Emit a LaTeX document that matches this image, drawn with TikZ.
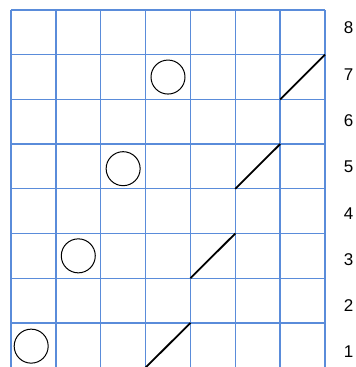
\documentclass[tikz,border=0pt]{standalone}
\usepackage{fontspec}
\setmainfont{Liberation Sans}
\begin{document}
\begin{tikzpicture}[x=1pt,y=-1pt,
  gridline/.style={draw={rgb,255:red,90;green,140;blue,218},line width=1.3pt},
  ball/.style={circle,draw=black,line width=1pt,fill=white,minimum size=34pt,inner sep=0pt},
  stroke/.style={draw=black,line width=1.8pt},
  rowlabel/.style={font=\fontsize{17}{19}\selectfont,inner sep=0pt,text=black}]
\useasboundingbox (0,0) rectangle (356,367);
\def\cw{44.857}
\def\ch{44.7}
% grid
\foreach \i in {0,...,7} {
  \draw[gridline] ({11+\i*\cw},10) -- ({11+\i*\cw},{10+8*\ch});
}
\foreach \j in {0,...,8} {
  \draw[gridline] (11,{10+\j*\ch}) -- (325,{10+\j*\ch});
}
% circles
\node[ball] (c7) at ({11+3.5*\cw},{10+1.5*\ch}) {};
\node[ball] (c5) at ({11+2.5*\cw},{10+3.55*\ch}) {};
\node[ball] (c3) at ({11+1.5*\cw},{10+5.5*\ch}) {};
\node[ball] (c1) at ({11+0.45*\cw},{10+7.52*\ch}) {};
% diagonal strokes
\coordinate (a7) at ({11+6*\cw},{10+2*\ch});
\coordinate (b7) at ({11+7*\cw},{10+1*\ch});
\coordinate (a5) at ({11+5*\cw},{10+4*\ch});
\coordinate (b5) at ({11+6*\cw},{10+3*\ch});
\coordinate (a3) at ({11+4*\cw},{10+6*\ch});
\coordinate (b3) at ({11+5*\cw},{10+5*\ch});
\coordinate (a1) at ({11+3*\cw},{10+8*\ch});
\coordinate (b1) at ({11+4*\cw},{10+7*\ch});
\draw[stroke] (a7) -- (b7);
\draw[stroke] (a5) -- (b5);
\draw[stroke] (a3) -- (b3);
\draw[stroke] (a1) -- (b1);
% row labels
\foreach \n in {1,...,8} {
  \node[rowlabel] (l\n) at (348.5,{28+(8-\n)*46.3}) {\n};
}
\end{tikzpicture}
\end{document}
